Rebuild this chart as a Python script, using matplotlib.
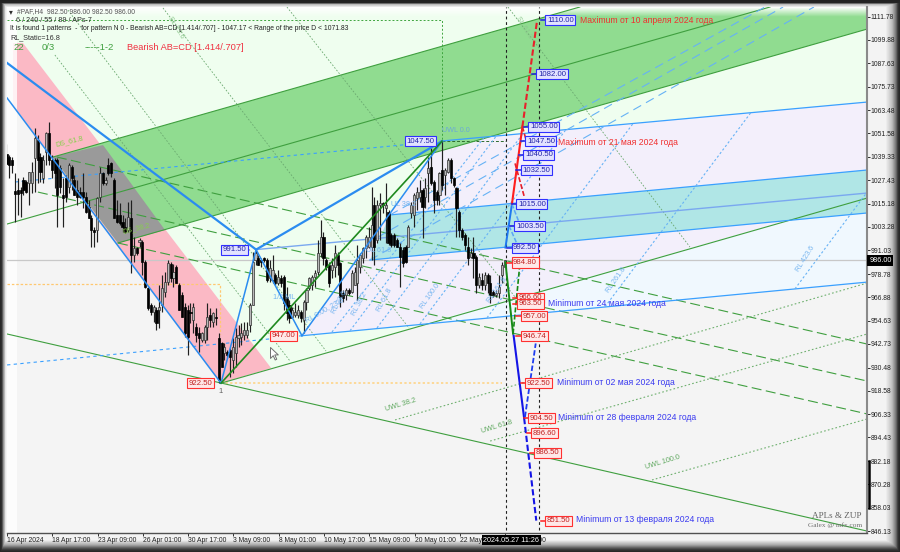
import numpy as np
import matplotlib
matplotlib.use('Agg')
import matplotlib.pyplot as plt
from matplotlib.path import Path
from matplotlib.transforms import blended_transform_factory

plt.rcParams['font.family'] = ['Liberation Sans', 'DejaVu Sans']

# bars are H4 candles counted from the left edge of the chart
opens = [1040.7,1039.5,1037.8,1021.7,1022.3,1022.3,1027.4,1026.6,1025.7,1025.7,1038.6,1048.1,1039.5,1028.3,1042,1051.5,1037.8,1037.8,1037.8,1033.4,
         1019.7,1028.3,1024,1034.3,1027.4,1022.3,1021.4,1021.4,1018.8,1013.6,1007.6,1001.6,1001.6,1018.8,1030.9,1025.7,1035.2,1036,1027.4,1009.3,
         1009.3,1005.9,1003.3,1001.6,1007.6,988.7,992.1,995.6,995.6,985.2,971.5,962.8,959.4,960.3,960.3,962.8,969.7,974.9,984,977,
         982.7,973.2,968.1,962,960.3,959.4,955.1,951.7,948.3,944.8,944.8,951.7,957.7,954.3,956.9,945.7,943.1,937.9,938.8,939.6,
         934.5,937.9,945.7,946.5,947.4,947.4,952.6,962.9,986.1,987,986.1,987,986.1,976.7,975.8,978.4,974.1,976.7,977.5,967.2,
         962.9,956.9,957.7,957.7,959.4,955.1,964.6,971.5,973.2,977.5,980.1,989.6,998.2,986.1,983.6,981,982.7,988.7,984.4,968.9,
         968.1,970.6,969.8,973.2,974.1,982.7,987,992.2,993,993,1014.6,996.5,1014.6,1015.4,1012.8,1011.1,999.1,999.1,996.5,993,
         991.3,993,993,1010.3,1009.4,1018,1018.9,1022.3,1018.9,1030.9,1034.4,1026.6,1021.4,1019.7,1032.6,1030,1031.8,1037.8,1028.3,1023.2,
         1011.1,1001.6,999.1,993,987.9,989.6,987.9,973.2,975.8,973.2,978.4,974.1,969.8,968.1,968.9,978.4,982.5]
highs = [1045.8,1040.3,1039.5,1030.9,1028.3,1024,1029.1,1027.4,1031.7,1036.9,1054.1,1050.7,1041.2,1040.3,1052.4,1057.6,1040.3,1038.6,1038.6,1035.2,
         1028.3,1030,1036,1035.2,1030,1027.4,1024,1030.9,1021.4,1017.1,1009.3,1003.3,1018.8,1034.3,1031.7,1029.1,1038.6,1036.9,1028.3,1017.1,
         1015.4,1009.3,1007.6,1016.2,1017.1,998.1,993,997.3,996.4,986.1,972.3,963.7,962.8,962,973.2,978.3,980.1,986.1,985,984,
         983.6,974.1,969.8,963.8,962.9,963.8,963.8,953.4,951.7,949.1,952.6,963.8,961.2,959.4,961.2,948.3,944,943.1,939.6,940.5,
         945.7,950.8,952.6,953.4,954.3,954.3,963.8,990.4,991.3,988.7,987,987.9,987,986.1,988.7,979.2,981,978.4,978.4,972.4,
         965.5,962,963.8,962.9,960.3,965.5,971.5,977.5,978.4,981,996.5,1006.8,1000.8,987,985.3,987,993.9,990.4,985.3,970.6,
         971.5,971.5,981,982.7,993.9,989.6,993,999.1,1003.4,1024,1018.9,1017.1,1020.6,1016.3,1025.8,1012,999.9,999.9,997.3,994.8,
         993,993.9,1004.2,1016.3,1020.6,1024,1027.5,1023.2,1028.3,1039.5,1043.8,1027.5,1022.3,1031.8,1047.5,1033.5,1038.7,1038.7,1029.2,1024,
         1012,1002.5,999.9,998.2,992.2,998.2,988.7,979.3,979.3,980.1,979.3,978.4,970.6,970.6,978.4,985.3,986]
lows = [1035.2,1028.3,1030.9,1005.6,1009.3,1008.5,1019.7,1020.5,1014.5,1020.5,1021,1025.7,1026.6,1025.7,1035.2,1035.2,1028.3,1023.1,1003.3,1020.5,
        1003.3,1016.2,1020.5,1022.3,1019.7,1014.5,1018,1012.8,1010.2,1007.6,993,993,995.6,1016.2,1024.8,1024.8,1030,1029.1,1007.6,1005,
        1004.2,1000.7,999.9,1000.7,979.2,985.2,988.7,993,978.3,971.5,960.3,957.7,954.2,949.9,950.8,959.4,967.2,973.2,975,972,
        974.1,960.3,956.9,946.5,937.1,953.4,948.3,944,938.8,944,943.1,944.8,951.7,951.7,952.6,922.5,931,934.5,935.3,925.9,
        927.6,931,941.4,942.2,944.8,945.7,949.1,962.9,983.6,983.6,982.7,985.3,974.9,974.9,974.1,973.2,973.2,972.4,960.3,955.1,
        953.4,956,956.9,956,954.3,948.3,960.3,970.6,970.6,972.4,978.4,987.9,983.6,981,972.4,976.7,977.5,978.4,962,964.6,
        965.5,968.1,968.9,973.2,965.5,979.3,984.4,987,992.2,986.1,983.6,994.8,996.5,1010.3,994.8,993.9,993,993,993,972.4,
        982.7,984.4,993,1007.7,1003.4,1012,1016.3,997.3,1012.8,1016.3,1024.9,1010.3,1014.6,1014.6,1022.3,1019.7,1030.9,1025.8,1024,998.2,
        998.2,996.5,991.3,983.6,987,976.7,968.9,971.5,970.6,970.6,968.9,963.8,967.2,967.2,966.3,974.1,982.5]
closes = [1035.5,1035.2,1035.2,1020,1020,1020.5,1022.3,1021.4,1031.7,1031.7,1049,1037.8,1031.7,1037.8,1051.5,1037.8,1032.6,1030.9,1019.7,1024,
          1018,1018.8,1035.2,1028.3,1019.7,1018.8,1018.8,1018.8,1011,1007.6,1001.6,1000.7,1018,1030.9,1025.7,1027.4,1030.9,1030.9,1007.6,1005.9,
          1005,1003.3,1000.7,1008.5,988.7,992.1,989.5,996.4,985.2,972.3,961.1,959.4,962,953.4,962,971.5,974.9,984.4,977,980,
          974.1,960.3,956.9,948.3,946.5,958.6,962,947.4,945.7,948.3,951.7,956.9,955.1,958.6,956,924.1,931,941.4,937.1,936.2,
          941.4,946.5,947.4,948.3,950,950,962.9,985.3,989.6,983.6,985.3,986.1,975.8,981.8,981,974.1,977.5,974.1,963.8,958.6,
          956,960.3,959.4,960.3,956,964.6,970.6,976.7,977.5,979.2,989.6,998.2,987,982.7,974.1,983.6,989.6,983.6,967.2,966.3,
          970.6,968.9,979.3,980.1,986.1,988.7,992.2,998.2,998.2,1004.2,993,1014.6,1015.4,1014.6,1014.6,994.8,993.9,993.9,993,987.9,
          984.4,985.3,1003.4,1014.6,1019.7,1021.4,1021.4,1013.7,1023.2,1033.5,1025.8,1017.1,1017.1,1030.9,1024.9,1032.6,1037.8,1028.3,1024.9,1012.8,
          1001.6,998.2,993.9,987,989.6,987,973.2,977.5,973.2,978.4,974.1,968.1,968.1,968.9,972.4,983.6,986]

price_ticks = [1111.78,1099.88,1087.63,1075.73,1063.48,1051.58,1039.33,1027.43,1015.18,1003.28,991.03,978.78,
               966.88,954.63,942.73,930.48,918.58,906.33,894.43,882.18,870.28,858.03,846.13]
time_labels = ['16 Apr 2024','18 Apr 17:00','23 Apr 09:00','26 Apr 01:00','30 Apr 17:00','3 May 09:00',
               '8 May 01:00','10 May 17:00','15 May 09:00','20 May 01:00','22 May 17:00','27 May 09:00']
time_ticks = [0.2 + 16 * k for k in range(len(time_labels))]

# channels and pattern legs: bar, price, bar, price
green_edges = [(16.4,1039.3,202.6,1116.8),(39.4,994.9,304.1,1105.4),(0.2,1004.7,269.8,1116.8),
               (75.8,922.5,304.1,1018.1),(0.2,947.9,304.1,846.1)]
green_dashed = [(17.8,1039.3,304.1,942.7),(11.1,1021.2,304.1,923.6),(39.4,994.9,304.1,906.6)]
green_steep = [(17.1,1092,100.2,933.9),(21.7,1115.2,112.9,939.1),(55.3,1116.3,142.2,951),
               (99.1,1116.8,179.7,967),(177.2,1116.8,241.5,992.8)]
green_uwl = [(137.3,903.5,304.1,974.2),(170.9,892.6,304.1,947.9),(228.1,872.5,304.1,904)]
blue_lines = [(153.9,1047.6,304.1,1067.7),(104.4,947,304.1,974.7),(135.5,1009.4,304.1,1032.6),
              (128.4,986.1,304.1,1010.4)]
blue_mid = [(88.2,991.5,304.1,1020.7)]
blue_dashed = [(3,1026.4,153.9,1047.5),(0.2,931.9,104.4,947)]
blue_fan = [(135.5,1009.4,268,1116.8),(131.3,998,274.4,1116.8),(128.4,986.1,285.3,1116.8)]
blue_rl = [(115,948.9,168.6,1049.1),(121.4,949.6,173.1,1050.2),(130.9,951,182.5,1051.4),(146.1,953.1,197.7,1053.5),
           (169.8,956.3,221.4,1056.6),(211.5,962,263,1062.2),(278.6,971.2,304.1,1021.2)]
blue_thin_legs = [(0.2,1069.8,75.8,922.5),(75.8,922.5,88.2,991.5),(88.2,991.5,104.4,947),(104.4,947,153.9,1047.5)]
blue_thick_legs = [(0.2,1087.9,88.2,991.5),(88.2,991.5,153.9,1047.5)]
dark_green_leg = [(75.8,922.5,153.9,1047.5)]

pink_x = [2.3,5.8,93.5,75.8,2.3]
pink_y = [1098.2,1098.2,930.3,922.5,1066.2]
band_x = [16.4,202.6,304.1,304.1,39.4]
band_y = [1039.3,1116.8,1116.8,1105.4,994.9]
overlap_x = [16.4,34.1,56,39.4]
overlap_y = [1039.3,1045.5,1001.6,994.9]
pale_x = [2.3,304.1,304.1,93.5,5.8,2.3]
pale_y = [1116.8,1116.8,1018.1,930.3,1098.2,1098.2]
lav_x = [104.4,153.9,304.1,304.1,147.2]
lav_y = [947,1047.6,1067.7,1018.1,953.1]
ice_x = [147.2,304.1,304.1]
ice_y = [953.1,974.7,1018.1]
teal_x = [135.5,304.1,304.1,128.4]
teal_y = [1009.4,1032.6,1010.4,986.1]

# projected zigzag
forecast_solid = [((176.3,178.6),(992.5,1015),'#1e78f0',1.4),((178.6,182.3),(1015,1055),'#ff1e1e',1.5),
                  ((176.3,179),(985,948),'#178a17',1.4),((179.2,182.9),(947,904.5),'#1414e6',1.5)]
forecast_dashed = [((182.3,187.5),(1055,1110),'#e8202a',1.5),((182.3,184),(1055,1046),'#e8202a',1.2),
                   ((179.7,183),(1036,1018.6),'#e8202a',1.2),((178.6,181),(1015,1006),'#5aa5f5',1.1),
                   ((177.6,180.4),(1003.7,994.4),'#5aa5f5',1.1),((179,181.3),(948,982.5),'#178a17',1.2),
                   ((182.9,187.2),(904.5,851.5),'#1414e6',1.5),((183.2,187),(905,943),'#1e3cf0',1.3)]

blue_box_price = [1110.0,1082.0,1055.0,1047.5,1040.5,1032.5,1015.0,1003.5,992.5]
blue_box_bar = [191,187.8,185,183.9,183.2,182.2,180.7,180,179]
red_box_price = [984.8,966.6,963.5,957.0,946.74,922.5,904.5,896.6,886.5,851.5]
red_box_bar = [179,181.1,181.1,182.2,182.2,183.9,185,186,187.1,191]

notes_red = [('Maximum от 10 апреля 2024 года',202.6,1110),('Maximum от 21 мая 2024 года',194.8,1047)]
notes_blue = [('Minimum от 24 мая 2024 года',191.4,963.5),('Minimum от 02 мая 2024 года',194.5,923),
              ('Minimum от 28 февраля 2024 года',194.8,905),('Minimum от 13 февраля 2024 года',201.2,852)]

level_labels = [('DS_61.8',17.5,1045,14,'#86cf4a'),('DS_38.2',41,1000,14,'#86cf4a'),('UWL 0.0',154,1052,0,'#6aa9d8'),
                ('1/2 ML',94,966,0,'#74b4f0'),('UL 38.2',136,1014,0,'#74b4f0'),('UL 61.8',127,990,0,'#74b4f0'),
                ('RL 0.00, 23.6',106,954,30,'#74b4f0'),('RL 23.6',116,958,62,'#74b4f0'),('RL 38.2',123,957,62,'#74b4f0'),
                ('RL 61.8',132,959,62,'#74b4f0'),('RL 100.0',147,961,55,'#74b4f0'),('RL 161.8',171,964,55,'#74b4f0'),
                ('RL 261.8',213,969,55,'#74b4f0'),('RL 423.6',280,980,58,'#74b4f0'),('UWL 38.2',134,908,17,'#5fa85f'),
                ('UWL 61.8',168,897,17,'#5fa85f'),('UWL 100.0',226,878,17,'#5fa85f'),('SL 23.6',57,1111,-58,'#8fc98f'),
                ('SL 61.8',180,1111,-58,'#8fc98f')]


def draw_lines(ax, rows, **kw):
    for x0, y0, x1, y1 in rows:
        ax.plot([x0, x1], [y0, y1], **kw)


def frame_image():
    xs = np.arange(900) + 0.5
    ys = np.arange(552) + 0.5
    left = np.interp(xs, [0, 2, 3, 5, 6], [0.15, 0.2, 0.5, 0.8, 1])
    right = np.interp(xs, [867, 885, 892, 896, 898, 900], [1, 0.97, 0.75, 0.45, 0.2, 0.15])
    top = np.interp(ys, [0, 3, 4, 7], [0.13, 0.15, 0.7, 0.95])
    bottom = np.interp(ys, [533, 540, 545, 548, 550, 552], [1, 0.95, 0.65, 0.35, 0.2, 0.15])
    return np.minimum.outer(np.minimum(top, bottom), np.minimum(left, right))


fig = plt.figure(figsize=(9, 5.52), dpi=100)
bg = fig.add_axes([0, 0, 1, 1])
bg.imshow(frame_image(), cmap='gray', vmin=0, vmax=1, aspect='auto')
bg.axis('off')

ax = fig.add_axes([7 / 900, 1 - 533 / 552, 860 / 900, 526 / 552], facecolor='#f4f4f4')
x_min, x_max = 0.18, 304.06
y_min, y_max = 845.1, 1116.8

ax.fill(pale_x, pale_y, color='#effeef', lw=0, zorder=1)
ax.fill(lav_x, lav_y, color='#f3effb', lw=0, zorder=1.1)
ax.fill(ice_x, ice_y, color='#f0f8fe', lw=0, zorder=1.2)
ax.fill(pink_x, pink_y, color='#fbb9c5', lw=0, zorder=1.3)
ax.fill(band_x, band_y, color='#90dc90', lw=0, zorder=1.4)
ax.fill(overlap_x, overlap_y, color='#9a9a9a', lw=0, zorder=1.5)
ax.fill(teal_x, teal_y, color='#b0e6e6', lw=0, zorder=1.5)
ax.axvspan(x_min, 3.7, color='white', alpha=0.8, lw=0, zorder=1.6)

# white fade along the top of the chart
fade = np.ones((20, 1, 4))
fade[:, 0, 3] = np.linspace(1, 0, 20)
ax.imshow(fade, extent=(x_min, x_max, 1111.8, y_max), aspect='auto', zorder=1.7)

ax.axhline(986, color='#c8c8c8', lw=0.9, zorder=2)
ax.plot([x_min, 75.4, 75.4], [973.7, 973.7, 947.9], color='#ffc870', lw=0.9, ls=(0, (2, 1.5)), zorder=2)
ax.plot([75.8, 175], [922.5, 922.5], color='#ffd27f', lw=1.1, ls=(0, (1.5, 1.5)), zorder=2)
ax.plot([x_min, 153.9, 153.9], [1110, 1110, 1047.5], color='#3fa53f', lw=0.7, ls=(0, (2, 2)), zorder=2)
ax.plot([153.9, 176.4], [1047.5, 1047.5], color='#2d6b2d', lw=0.7, ls=(0, (3, 2)), zorder=2)

draw_lines(ax, green_edges, color='#3f9f3f', lw=0.8, zorder=2.2)
draw_lines(ax, green_dashed, color='#3f9f3f', lw=0.8, ls=(0, (9, 4)), zorder=2.2)
draw_lines(ax, green_steep, color='#6aa86f', lw=0.6, ls=(0, (2, 2)), zorder=2.2)
draw_lines(ax, green_uwl, color='#6fb06f', lw=0.8, ls=(0, (1.5, 2)), zorder=2.2)
draw_lines(ax, blue_lines, color='#3aa0ff', lw=0.9, zorder=2.3)
draw_lines(ax, blue_mid, color='#7aa8f0', lw=1.0, zorder=2.3)
draw_lines(ax, blue_dashed, color='#3aa0ff', lw=0.8, ls=(0, (3, 3)), zorder=2.3)
draw_lines(ax, blue_fan, color='#66b2f5', lw=0.8, ls=(0, (8, 5)), zorder=2.3)
draw_lines(ax, blue_rl, color='#66b2f5', lw=0.8, ls=(0, (2, 2)), zorder=2.3)

bars = np.arange(len(closes))
o, h, l, c = map(np.array, (opens, highs, lows, closes))
ax.vlines(bars, l, h, color='#202020', lw=0.85, zorder=3)
is_up = c >= o
ax.bar(bars[is_up], np.maximum(c - o, 0.5)[is_up], bottom=o[is_up], width=0.75,
       color='#b8b8b8', edgecolor='#303030', lw=0.5, zorder=3.1)
ax.bar(bars[~is_up], np.maximum(o - c, 0.5)[~is_up], bottom=c[~is_up], width=0.75,
       color='black', edgecolor='black', lw=0.5, zorder=3.1)

draw_lines(ax, blue_thin_legs, color='#2b8cf0', lw=1.1, zorder=3.5)
draw_lines(ax, blue_thick_legs, color='#2b8cf0', lw=1.6, zorder=3.5)
draw_lines(ax, dark_green_leg, color='#1f8a1f', lw=1.2, zorder=3.6)

for x in (176.4, 188.2):
    ax.axvline(x, color='#202020', lw=0.8, ls=(0, (2.5, 2.5)), ymin=0.006, zorder=3.7)

for xs, ys, col, lw in forecast_solid:
    ax.plot(xs, ys, color=col, lw=lw, zorder=4)
for xs, ys, col, lw in forecast_dashed:
    ax.plot(xs, ys, color=col, lw=lw, ls=(0, (3, 1.3)), zorder=4)


def price_box(bar, price, kind):
    edge, face, ink = ('#3030ff', '#e2e2ff', '#2222a8') if kind == 'blue' else ('#ff3030', '#ffe8e8', '#c02020')
    ax.text(bar, price, f'{price:.2f}', fontsize=5.6, color=ink, ha='left', va='center', zorder=6,
            bbox=dict(boxstyle='square,pad=0.2', fc=face, ec=edge, lw=0.8))


for bar, price in zip(blue_box_bar, blue_box_price):
    ax.plot([bar - 2.2, bar], [price, price], color='#2020e0', lw=1.1, zorder=5)
    price_box(bar, price, 'blue')
for bar, price in zip(red_box_bar, red_box_price):
    ax.plot([bar - 2.2, bar], [price, price], color='#ff2020', lw=1.1, zorder=5)
    price_box(bar, price, 'red')

price_box(141.2, 1047.5, 'blue')
price_box(76.5, 991.5, 'blue')
price_box(93.8, 947.0, 'red')
price_box(64.5, 922.5, 'red')
ax.text(75.8, 920, '1', fontsize=5.5, color='#606060', ha='center', va='top', zorder=6)

for text, bar, price in notes_red:
    ax.text(bar, price, text, fontsize=6.25, color='#f03030', va='center', zorder=6)
for text, bar, price in notes_blue:
    ax.text(bar, price, text, fontsize=6.25, color='#3a3af0', va='center', zorder=6)
for text, bar, price, rot, col in level_labels:
    ax.text(bar, price, text, fontsize=5.2, color=col, rotation=rot, rotation_mode='anchor', zorder=5)

# mouse pointer left on the chart
pointer = Path([(0, 0), (0, -14), (3.5, -10.5), (6, -16), (8, -15), (5.5, -9.5), (10, -9.5), (0, 0)], closed=True)
ax.plot([93], [941.2], marker=pointer, ms=18, mfc='white', mec='#707070', mew=0.7, zorder=6)

ax.set_xlim(x_min, x_max)
ax.set_ylim(y_min, y_max)
ax.yaxis.tick_right()
ax.set_yticks(price_ticks)
ax.set_yticklabels([f'{v:.2f}' for v in price_ticks], fontsize=4.9, color='#202020')
ax.set_xticks(time_ticks)
ax.set_xticklabels(time_labels, fontsize=4.9, color='#202020', ha='left')
ax.tick_params(axis='both', length=2.0, width=0.7, pad=0.8, color='#303030')
for name in ('top', 'left'):
    ax.spines[name].set_visible(False)
ax.spines['right'].set_color('#8a8a8a')
ax.spines['right'].set_linewidth(1.5)
ax.spines['bottom'].set_color('#505050')
ax.spines['bottom'].set_linewidth(1.0)

on_right = blended_transform_factory(ax.transAxes, ax.transData)
on_bottom = blended_transform_factory(ax.transData, ax.transAxes)
ax.plot([1.002, 1.002], [882.18, 858.03], transform=on_right, color='black', lw=1.8, clip_on=False, zorder=7)
ax.text(1.0025, 986, '986.00', transform=on_right, fontsize=5.2, color='white', va='center', clip_on=False,
        bbox=dict(boxstyle='square,pad=0.25', fc='black', ec='black', lw=0), zorder=7)
ax.text(178.4, -0.0135, '2024.05.27 11:26', transform=on_bottom, fontsize=5.2, color='white', ha='center', va='center',
        clip_on=False, bbox=dict(boxstyle='square,pad=0.25', fc='black', ec='black', lw=0), zorder=7)

header = fig.add_axes([0, 0, 1, 1], facecolor='none')
header.set_xlim(0, 900)
header.set_ylim(552, 0)
header.axis('off')
header.text(17, 12, '#PAF,H4  982.50 986.00 982.50 986.00', fontsize=4.9, color='#555555', va='center')
header.text(9, 12, '▾', fontsize=5.5, color='#303030', va='center', family=['DejaVu Sans'])
header.text(16, 21, '6 / 240 / 55 / 89 / APs-7', fontsize=5.2, color='#303030', va='center')
header.text(10, 29, 'It is found 1 patterns  -  for pattern N 0 - Bearish AB=CD [1.414/.707] - 1047.17 < Range of the price D < 1071.83',
            fontsize=4.9, color='#202020', va='center')
header.text(10, 38, 'RL_Static=16.8', fontsize=5.2, color='#303030', va='center')
header.text(13, 47, '22', fontsize=6.8, color='#3f9f3f', va='center')
header.text(42, 47, '0/3', fontsize=6.8, color='#3f9f3f', va='center')
header.text(85, 47, '-----1-2', fontsize=6.8, color='#3f9f3f', va='center')
header.text(127, 47, 'Bearish AB=CD [1.414/.707]', fontsize=6.7, color='#f03040', va='center')
header.text(862, 516, 'APLs & ZUP', fontsize=6.6, color='#606060', ha='right', va='center', family=['Liberation Serif'])
header.text(862, 525, 'Galex @ mfx.com', fontsize=5.2, color='#707070', ha='right', va='center', family=['Liberation Serif'])

fig.savefig('out.png', dpi=100)
